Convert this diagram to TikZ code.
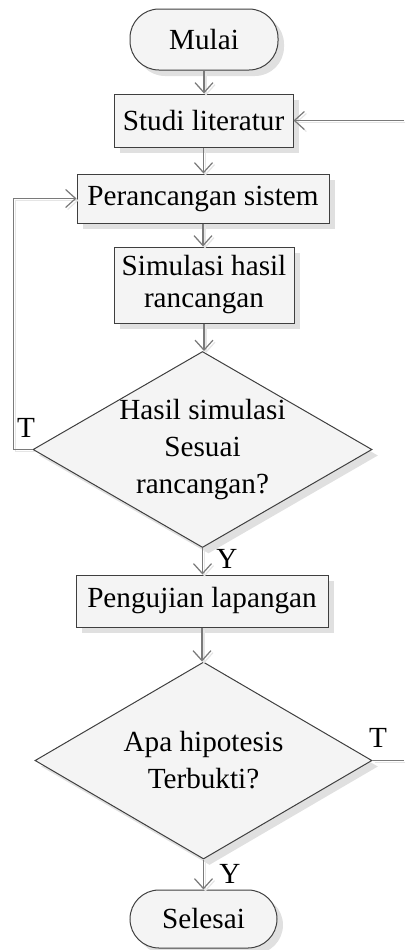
\documentclass[tikz,border=0pt]{standalone}
\usepackage{fontspec}
\setmainfont{Liberation Serif}
\usetikzlibrary{shapes.geometric,shadows,arrows.meta}
\definecolor{edgec}{HTML}{3F3F3F}
\definecolor{linec}{HTML}{7A7A7A}
\definecolor{fillc}{HTML}{F4F4F4}
\tikzset{
  shad/.style={drop shadow={shadow xshift=3pt, shadow yshift=-3pt, fill=black!12, opacity=1}},
  boxbase/.style={draw=edgec, line width=0.5pt, fill=fillc, shad, inner sep=0pt, align=center,
    font=\fontsize{14.6pt}{16pt}\selectfont},
  procbox/.style={boxbase, rectangle},
  termbox/.style={boxbase, rectangle, rounded corners=14.5pt},
  decbox/.style={boxbase, diamond},
  dtext/.style={align=center, font=\fontsize{14.6pt}{18.5pt}\selectfont, inner sep=0pt},
  lbl/.style={font=\fontsize{14.6pt}{16pt}\selectfont, inner sep=0pt},
  conn/.style={draw=linec, line width=0.75pt,
    preaction={draw=black!10, line width=0.75pt, transform canvas={xshift=1pt, yshift=-1pt}}},
  arr/.style={conn, -{Straight Barb[length=5pt, width=9pt, line width=0.6pt]}}
}
\begin{document}
\begin{tikzpicture}[x=0.5pt, y=-0.5pt]
\useasboundingbox (0,0) rectangle (404,950);
\node[termbox, minimum width=74pt, minimum height=30.5pt] (mulai) at (204,39.5) {Mulai};
\node[procbox, minimum width=89.5pt, minimum height=26.5pt] (studi) at (203.5,120.5) {Studi literatur};
\node[procbox, minimum width=126pt, minimum height=24.5pt] (per) at (203,198.5) {Perancangan sistem};
\node[procbox, minimum width=90pt, minimum height=38pt] (sim) at (204,285) {Simulasi hasil\\rancangan};
\node[decbox, minimum width=169.5pt, minimum height=98pt] (d1) at (202.5,449.5) {};
\node[dtext] (d1t) at (d1.center) {Hasil simulasi\\Sesuai\\rancangan?};
\node[procbox, minimum width=126pt, minimum height=26pt] (uji) at (202,601) {Pengujian lapangan};
\node[decbox, minimum width=168.5pt, minimum height=98.5pt] (d2) at (203.5,760.5) {};
\node[dtext] (d2t) at (d2.center) {Apa hipotesis\\Terbukti?};
\node[termbox, minimum width=73.5pt, minimum height=29pt] (selesai) at (203.5,919) {Selesai};

\coordinate (in1) at (404,120.5);
\coordinate (out2) at (404,760.5);

\draw[arr] (mulai.south) -- (mulai.south |- studi.north);
\draw[arr] (studi.south) -- (studi.south |- per.north);
\draw[arr] (per.south) -- (per.south |- sim.north);
\draw[arr] (sim.south) -- (sim.south |- d1.north);
\draw[arr] (d1.south) -- (d1.south |- uji.north);
\draw[arr] (uji.south) -- (uji.south |- d2.north);
\draw[arr] (d2.south) -- (d2.south |- selesai.north);
\draw[arr] (d1.west) -- ++(-19,0) |- (per.west);
\draw[arr] (in1) -- (studi.east);
\draw[conn] (d2.east) -- (out2);

\node[lbl] (t1) at (26,428) {T};
\node[lbl] (y1) at (227,559) {Y};
\node[lbl] (t2) at (378,738) {T};
\node[lbl] (y2) at (230,874) {Y};
\end{tikzpicture}
\end{document}
